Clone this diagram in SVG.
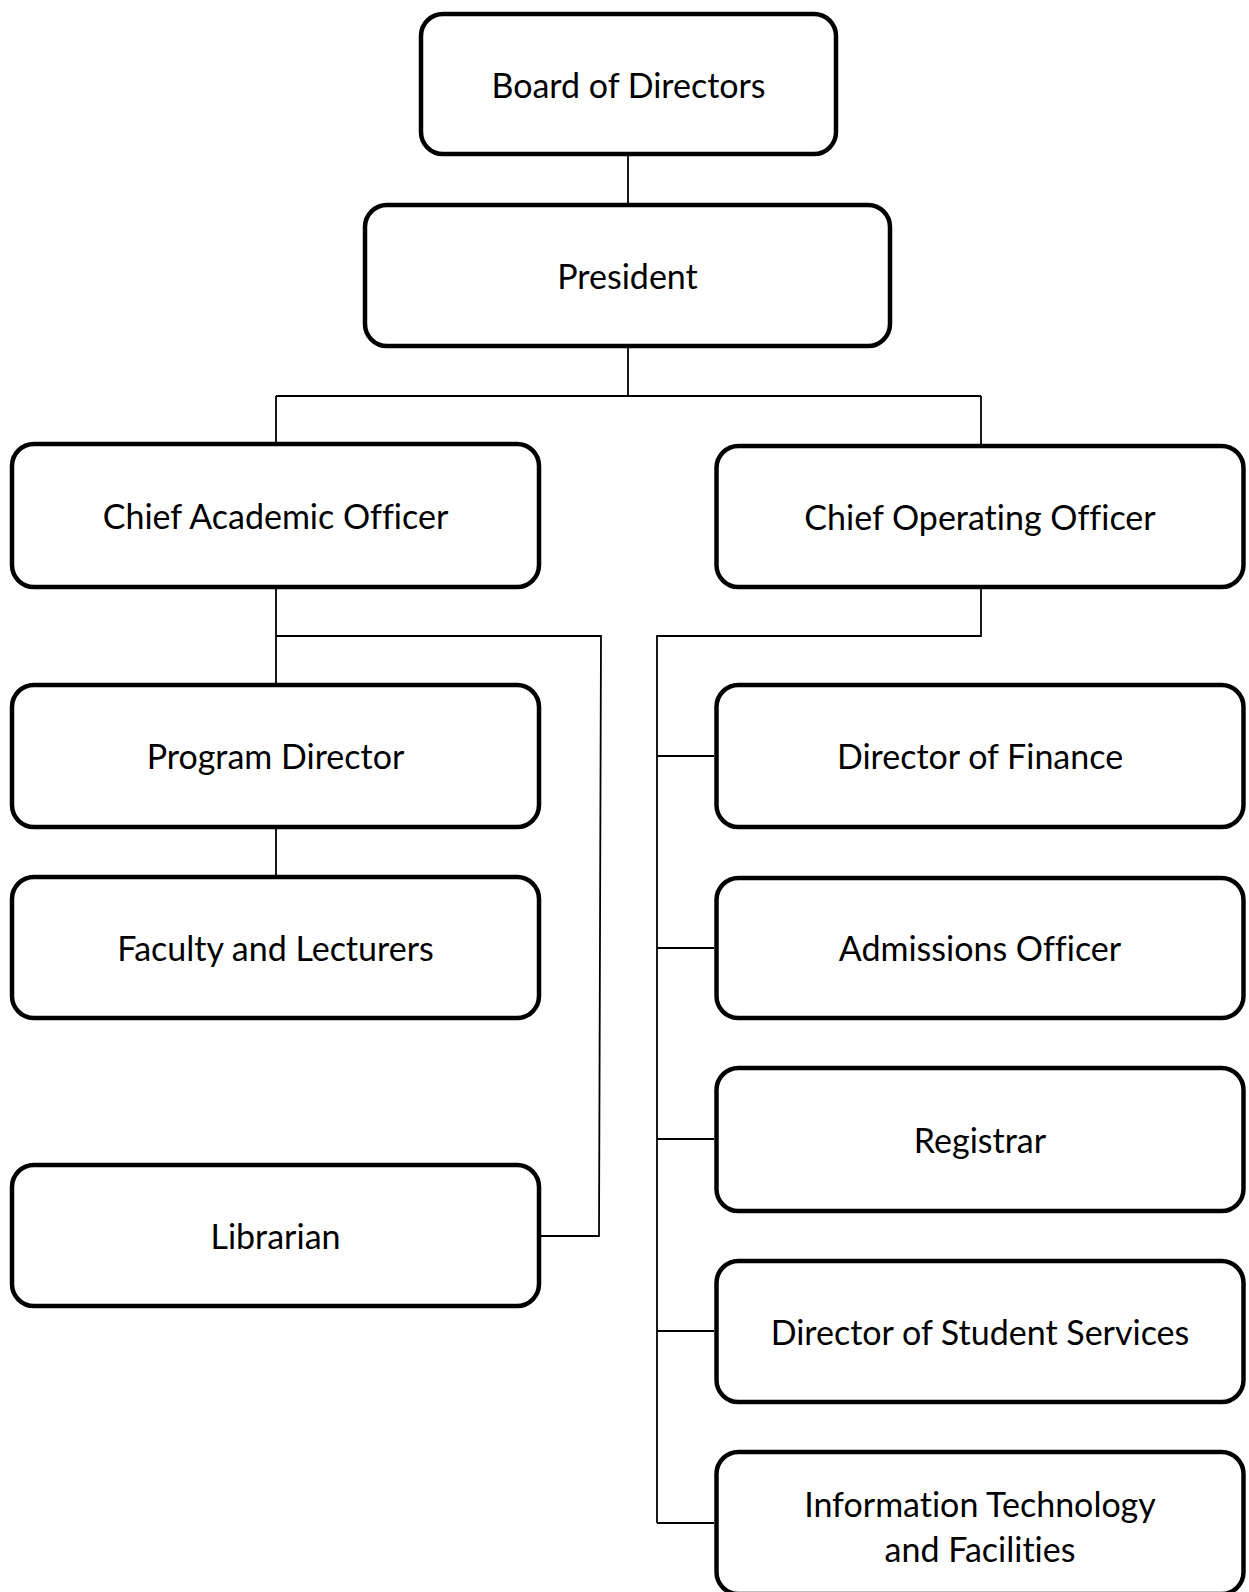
<svg xmlns="http://www.w3.org/2000/svg" width="1249" height="1592" viewBox="0 0 1249 1592">
<style>
.box{fill:#fff;stroke:#000;stroke-width:4.5}
.lbl{font-family:Lato,"Open Sans","Liberation Sans",sans-serif;font-size:34px;fill:#000;text-anchor:middle;font-variant-ligatures:no-common-ligatures}
.con{fill:none;stroke:#000;stroke-width:1.8}
</style>
<rect width="1249" height="1592" fill="#fff"/>
<g id="connectors">
<path class="con" d="M628,156 L628,203"/>
<path class="con" d="M628,348 L628,396"/>
<path class="con" d="M276,396 L981,396"/>
<path class="con" d="M276,396 L276,442"/>
<path class="con" d="M981,396 L981,444"/>
<path class="con" d="M276,589 L276,683"/>
<path class="con" d="M276,636 L601,636 L599,1236 L541,1236"/>
<path class="con" d="M276,829 L276,875"/>
<path class="con" d="M981,589 L981,636 L657,636 L657,1523"/>
<path class="con" d="M657,756 L714,756"/>
<path class="con" d="M657,948 L714,948"/>
<path class="con" d="M657,1139 L714,1139"/>
<path class="con" d="M657,1331 L714,1331"/>
<path class="con" d="M657,1523 L714,1523"/>
</g>
<g id="board"><rect class="box" x="421" y="14" width="415" height="140" rx="22"/><text class="lbl" x="628.5" y="97.5">Board of Directors</text></g>
<g id="president"><rect class="box" x="365" y="205" width="525" height="141" rx="22"/><text class="lbl" x="627.5" y="288.5">President</text></g>
<g id="cao"><rect class="box" x="12" y="444" width="527" height="143" rx="22"/><text class="lbl" x="275.5" y="528.5">Chief Academic Officer</text></g>
<g id="coo"><rect class="box" x="716.5" y="446" width="527" height="141" rx="22"/><text class="lbl" x="980" y="529.5">Chief Operating Officer</text></g>
<g id="program-director"><rect class="box" x="12" y="685" width="527" height="142" rx="22"/><text class="lbl" x="275.5" y="769">Program Director</text></g>
<g id="faculty"><rect class="box" x="12" y="877" width="527" height="141" rx="22"/><text class="lbl" x="275.5" y="960.5">Faculty and Lecturers</text></g>
<g id="librarian"><rect class="box" x="12" y="1165" width="527" height="141" rx="22"/><text class="lbl" x="275.5" y="1248.5">Librarian</text></g>
<g id="finance"><rect class="box" x="716.5" y="685" width="527" height="142" rx="22"/><text class="lbl" x="980" y="769">Director of Finance</text></g>
<g id="admissions"><rect class="box" x="716.5" y="878" width="527" height="140" rx="22"/><text class="lbl" x="980" y="961">Admissions Officer</text></g>
<g id="registrar"><rect class="box" x="716.5" y="1068" width="527" height="143" rx="22"/><text class="lbl" x="980" y="1152.5">Registrar</text></g>
<g id="student-services"><rect class="box" x="716.5" y="1261" width="527" height="141" rx="22"/><text class="lbl" x="980" y="1344.5">Director of Student Services</text></g>
<g id="it"><rect class="box" x="716.5" y="1452" width="527" height="142" rx="22"/><text class="lbl" x="980" y="1516.5">Information Technology</text><text class="lbl" x="980" y="1561.5">and Facilities</text></g>
</svg>
